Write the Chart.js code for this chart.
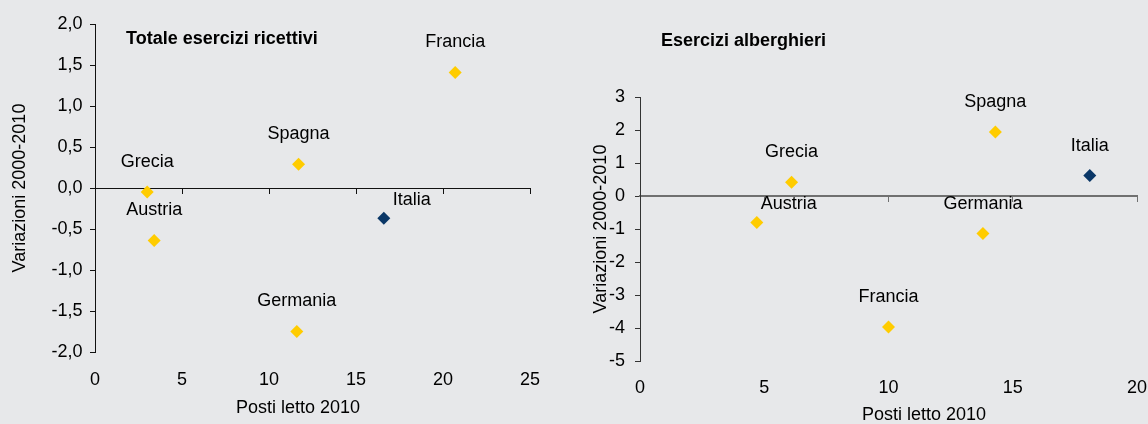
<!DOCTYPE html>
<html>
<head>
<meta charset="utf-8">
<script src="https://cdn.jsdelivr.net/npm/chart.js@4/dist/chart.umd.min.js"></script>
<style>
  html, body { margin: 0; padding: 0; width: 1148px; height: 424px; overflow: hidden; background: #e7e8ea; }
  canvas { position: absolute; top: 0; }
  #c1 { left: 0; }
  #c2 { left: 574px; }
</style>
</head>
<body>
<canvas id="c1" width="574" height="424"></canvas>
<canvas id="c2" width="574" height="424"></canvas>
<script>
// ---------- DATA ----------
const countries = ['Austria', 'Francia', 'Germania', 'Grecia', 'Italia', 'Spagna'];

// Totale esercizi ricettivi
const totaleX = [3.4, 20.7, 11.6, 3.0, 16.6, 11.7];
const totaleY = [-0.64, 1.41, -1.75, -0.05, -0.37, 0.29];

// Esercizi alberghieri
const albergX = [4.7, 10.0, 13.8, 6.1, 18.1, 14.3];
const albergY = [-0.80, -3.97, -1.14, 0.42, 0.62, 1.94];

const leftXTicks = [0, 5, 10, 15, 20, 25];
const leftYTicks = [-2, -1.5, -1, -0.5, 0, 0.5, 1, 1.5, 2];
const leftYTickLabels = ['-2,0', '-1,5', '-1,0', '-0,5', '0,0', '0,5', '1,0', '1,5', '2,0'];

const rightXTicks = [0, 5, 10, 15, 20];
const rightYTicks = [-5, -4, -3, -2, -1, 0, 1, 2, 3];
const rightYTickLabels = ['-5', '-4', '-3', '-2', '-1', '0', '1', '2', '3'];

const titleLeft = 'Totale esercizi ricettivi';
const titleRight = 'Esercizi alberghieri';
const xTitle = 'Posti letto 2010';
const yTitle = 'Variazioni 2000-2010';

// ---------- STYLE ----------
const FAMILY = "'Liberation Sans', Arial, Helvetica, sans-serif";
const YELLOW = '#FFCC00';
const NAVY = '#0a3767';
const HIGHLIGHT = 'Italia';

const textPlugin = {
  id: 'texts',
  afterDatasetsDraw(chart, args, opts) {
    const ctx = chart.ctx;
    ctx.save();
    ctx.fillStyle = '#000';
    ctx.textBaseline = 'middle';
    ctx.textAlign = 'center';
    ctx.font = '18px ' + FAMILY;
    const meta = chart.getDatasetMeta(0);
    meta.data.forEach((pt, i) => {
      const name = countries[i];
      const off = (opts.offsets && opts.offsets[name]) || [0, -30];
      ctx.fillText(name, pt.x + off[0], pt.y + off[1]);
    });
    // x axis title
    ctx.fillText(opts.xTitle, opts.xTitlePos[0], opts.xTitlePos[1]);
    // chart title
    ctx.textAlign = 'left';
    ctx.font = 'bold 18px ' + FAMILY;
    ctx.fillText(opts.title, opts.titlePos[0], opts.titlePos[1]);
    ctx.restore();
  }
};

function makeChart(canvasId, cfg) {
  const fnt = { size: 18, family: FAMILY };
  const tickSet = arr => (s => { s.ticks = arr.map(v => ({ value: v })); });
  return new Chart(document.getElementById(canvasId), {
    type: 'scatter',
    data: {
      datasets: [{
        data: cfg.xs.map((x, i) => ({ x: x, y: cfg.ys[i] })),
        pointStyle: 'rectRot',
        pointRadius: 6.5,
        pointHoverRadius: 6.5,
        borderWidth: 0,
        pointBackgroundColor: countries.map(c => c === HIGHLIGHT ? NAVY : YELLOW),
        pointBorderColor: countries.map(c => c === HIGHLIGHT ? NAVY : YELLOW)
      }]
    },
    options: {
      responsive: false,
      animation: false,
      events: [],
      layout: { padding: cfg.padding },
      plugins: {
        legend: { display: false },
        tooltip: { enabled: false },
        texts: {
          title: cfg.title, titlePos: cfg.titlePos,
          xTitle: xTitle, xTitlePos: cfg.xTitlePos,
          offsets: cfg.offsets
        }
      },
      scales: {
        x: {
          type: 'linear', min: cfg.xTicks[0], max: cfg.xTicks[cfg.xTicks.length - 1],
          position: { y: 0 },
          afterBuildTicks: tickSet(cfg.xTicks),
          ticks: { display: false },
          grid: { drawOnChartArea: false, drawTicks: true, tickLength: 5, color: cfg.zeroColor, lineWidth: 1 },
          border: { display: true, color: cfg.zeroColor, width: cfg.zeroWidth },
          afterFit: s => { s.paddingLeft = 0; s.paddingRight = 0; }
        },
        x2: {
          type: 'linear', min: cfg.xTicks[0], max: cfg.xTicks[cfg.xTicks.length - 1],
          position: 'bottom',
          afterBuildTicks: tickSet(cfg.xTicks),
          ticks: { padding: cfg.xLabelPad, color: '#000', font: fnt, maxRotation: 0 },
          grid: { display: false, drawTicks: false },
          border: { display: false },
          afterFit: s => { s.height = cfg.xHeight; s.paddingLeft = 0; s.paddingRight = 0; }
        },
        y: {
          type: 'linear', min: cfg.yTicks[0], max: cfg.yTicks[cfg.yTicks.length - 1],
          position: 'left',
          afterBuildTicks: tickSet(cfg.yTicks),
          ticks: {
            padding: cfg.yLabelPad, color: '#000', font: fnt,
            callback: v => cfg.yLabels[cfg.yTicks.indexOf(v)]
          },
          grid: { drawOnChartArea: false, drawTicks: true, tickLength: 5, color: cfg.axisColor },
          border: { display: true, color: cfg.axisColor, width: 1 },
          title: { display: true, text: yTitle, color: '#000', font: fnt, padding: { top: cfg.yTitlePad, bottom: 0 } },
          afterFit: s => { s.width = cfg.yWidth; s.paddingTop = 0; s.paddingBottom = 0; }
        }
      }
    },
    plugins: [textPlugin]
  });
}

makeChart('c1', {
  xs: totaleX, ys: totaleY,
  xTicks: leftXTicks, yTicks: leftYTicks, yLabels: leftYTickLabels,
  padding: { top: 24, right: 44, left: 0, bottom: 0 },
  yWidth: 95, xHeight: 72, yLabelPad: 7.5, xLabelPad: 17, yTitlePad: 9,
  axisColor: '#111', zeroColor: '#111', zeroWidth: 1,
  title: titleLeft, titlePos: [126, 39],
  xTitlePos: [298, 408],
  offsets: { Italia: [28, -18] }
});

makeChart('c2', {
  xs: albergX, ys: albergY,
  xTicks: rightXTicks, yTicks: rightYTicks, yLabels: rightYTickLabels,
  padding: { top: 97, right: 11, left: 0, bottom: 0 },
  yWidth: 66, xHeight: 63, yLabelPad: 10, xLabelPad: 16.5, yTitlePad: 16,
  axisColor: '#333', zeroColor: '#707070', zeroWidth: 2,
  title: titleRight, titlePos: [87, 41],
  xTitlePos: [350, 415],
  offsets: { Austria: [32, -18] }
});
</script>
</body>
</html>
